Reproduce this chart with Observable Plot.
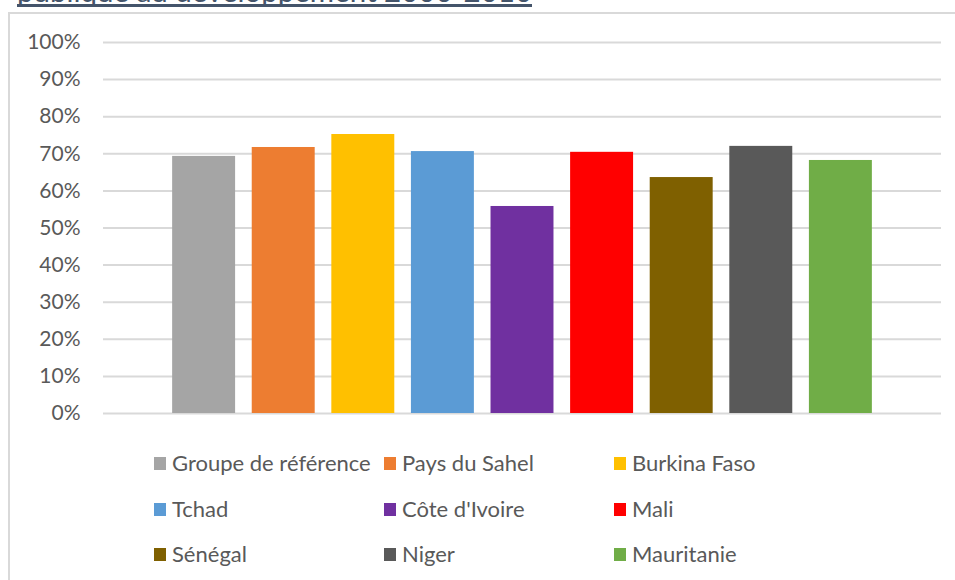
<!DOCTYPE html>
<html>
<head>
<meta charset="utf-8">
<script src="https://cdn.jsdelivr.net/npm/d3@7"></script>
<script src="https://cdn.jsdelivr.net/npm/@observablehq/plot@0.6"></script>
<style>
  html, body { margin: 0; padding: 0; background: #fff; }
  #wrap { position: relative; width: 955px; height: 580px; overflow: hidden; background: #fff; font-family: Lato, "Open Sans", sans-serif; }
  #frame { position: absolute; left: 8px; top: 12px; width: 1000px; height: 700px; border: 2px solid #d9d9d9; box-sizing: border-box; }
  #title { position: absolute; left: 0; top: 0; }
  #chart { position: absolute; left: 0; top: 0; }
  .leg { position: absolute; display: flex; align-items: center; font-size: 22px; color: #595959; white-space: nowrap; line-height: 1; }
  .sw { width: 12px; height: 13px; margin-right: 6px; flex: none; }
</style>
</head>
<body>
<div id="wrap">
  <div id="frame"></div>
  <svg id="title" width="955" height="12">
    <text x="17" y="2" font-family="Lato, sans-serif" font-size="29" fill="#44546A" textLength="515" lengthAdjust="spacingAndGlyphs">publique au développement 2000-2010</text>
    <line x1="17" x2="532" y1="5.5" y2="5.5" stroke="#44546A" stroke-width="3"></line>
  </svg>
  <div id="chart"></div>
  <div id="legend"></div>
</div>
<script>
const categories = ["Groupe de référence", "Pays du Sahel", "Burkina Faso", "Tchad", "Côte d'Ivoire", "Mali", "Sénégal", "Niger", "Mauritanie"];
const values = [0.693, 0.717, 0.752, 0.706, 0.558, 0.704, 0.636, 0.720, 0.682];
const colors = ["#A5A5A5", "#ED7D31", "#FFC000", "#5B9BD5", "#7030A0", "#FF0000", "#7F6000", "#595959", "#70AD47"];
const yTicks = [0, 0.1, 0.2, 0.3, 0.4, 0.5, 0.6, 0.7, 0.8, 0.9, 1.0];

const data = categories.map((c, i) => ({name: c, value: values[i]}));

const chart = Plot.plot({
  width: 955,
  height: 430,
  marginTop: 42,
  marginBottom: 17,
  marginLeft: 103,
  marginRight: 14,
  style: {fontFamily: "Lato, 'Open Sans', sans-serif", fontSize: "21px", color: "#595959", background: "transparent", overflow: "visible"},
  x: {domain: categories, axis: null, padding: 0.209, round: false, insetLeft: 52.5, insetRight: 52.5},
  y: {domain: [0, 1]},
  color: {domain: categories, range: colors},
  marks: [
    Plot.ruleY(yTicks, {stroke: "#d9d9d9", strokeWidth: 2}),
    Plot.axisY(yTicks, {tickSize: 0, tickPadding: 23, tickFormat: d3.format(".0%"), label: null, fontSize: 21, fill: "#595959"}),
    Plot.barY(data, {x: "name", y: "value", fill: "name"})
  ]
});
document.getElementById("chart").appendChild(chart);

// Legend (3 columns x 3 rows)
const legend = document.getElementById("legend");
const colX = [154, 384, 614];
const rowY = [463, 509, 554];
categories.forEach((c, i) => {
  const el = document.createElement("div");
  el.className = "leg";
  el.style.left = colX[i % 3] + "px";
  el.style.top = (rowY[Math.floor(i / 3)] - 11) + "px";
  el.style.height = "22px";
  const sw = document.createElement("span");
  sw.className = "sw";
  sw.style.background = colors[i];
  const tx = document.createElement("span");
  tx.textContent = c;
  el.appendChild(sw);
  el.appendChild(tx);
  legend.appendChild(el);
});
</script>
</body>
</html>
